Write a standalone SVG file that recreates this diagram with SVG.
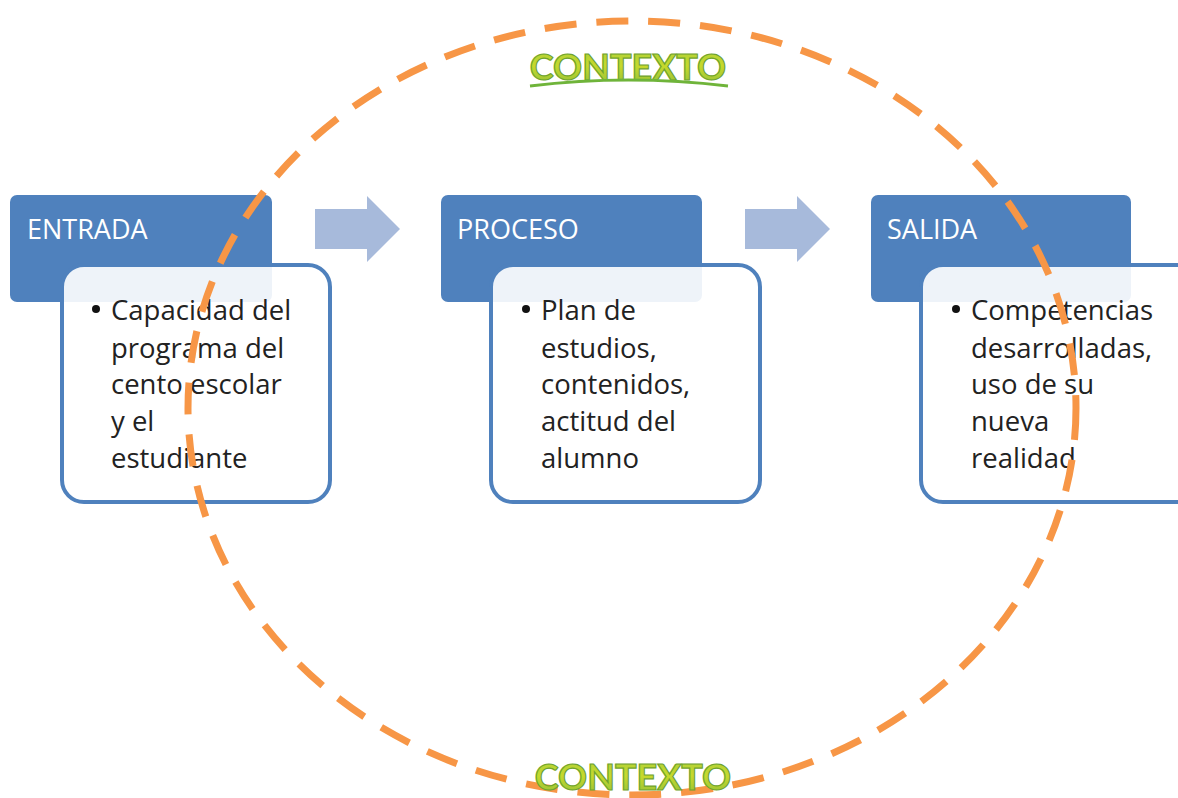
<svg xmlns="http://www.w3.org/2000/svg" width="1178" height="798" viewBox="0 0 1178 798">
<defs>
<style>
.hdr{fill:#4F81BD}
.body{fill:#ffffff;fill-opacity:0.9;stroke:#4F81BD;stroke-width:4}
.ht{font-family:"Open Sans",Lato,"Liberation Sans",sans-serif;font-size:27px;fill:#ffffff}
.bt{font-family:"Open Sans",Lato,"Liberation Sans",sans-serif;font-size:27.5px;fill:#222222}
.arr{fill:#A7BADB}
.ctx{font-family:Lato,"Liberation Sans",sans-serif;font-size:36px;font-weight:bold;fill:url(#g);stroke:#6FA32E;stroke-width:1.2}
</style>
<linearGradient id="g" x1="0" y1="0" x2="0" y2="1">
<stop offset="0" stop-color="#A9CE3C"/>
<stop offset="0.5" stop-color="#C6D92C"/>
<stop offset="1" stop-color="#8DBE3A"/>
</linearGradient>
</defs>
<rect width="1178" height="798" fill="#ffffff"/>
<g id="entrada">
<rect class="hdr" x="10" y="195" width="262" height="107" rx="7"/>
<text class="ht" x="27" y="239">ENTRADA</text>
<rect class="body" x="62" y="265" width="268" height="237" rx="22"/>
<circle cx="96" cy="309" r="4" fill="#111"/>
<text class="bt"><tspan x="111" y="320">Capacidad del</tspan><tspan x="111" y="358">programa del</tspan><tspan x="111" y="394">cento escolar</tspan><tspan x="111" y="431">y el</tspan><tspan x="111" y="468">estudiante</tspan></text>
</g>
<g id="proceso">
<rect class="hdr" x="441" y="195" width="261" height="107" rx="7"/>
<text class="ht" x="457" y="239">PROCESO</text>
<rect class="body" x="491" y="265" width="269" height="237" rx="22"/>
<circle cx="526" cy="309" r="4" fill="#111"/>
<text class="bt"><tspan x="541" y="320">Plan de</tspan><tspan x="541" y="358">estudios,</tspan><tspan x="541" y="394">contenidos,</tspan><tspan x="541" y="431">actitud del</tspan><tspan x="541" y="468">alumno</tspan></text>
</g>
<g id="salida">
<rect class="hdr" x="871" y="195" width="260" height="107" rx="7"/>
<text class="ht" x="887" y="239">SALIDA</text>
<rect class="body" x="921" y="265" width="280" height="237" rx="22"/>
<circle cx="956" cy="309" r="4" fill="#111"/>
<text class="bt"><tspan x="971" y="320">Competencias</tspan><tspan x="971" y="358">desarrolladas,</tspan><tspan x="971" y="394">uso de su</tspan><tspan x="971" y="431">nueva</tspan><tspan x="971" y="468">realidad</tspan></text>
</g>
<g id="connectors">
<path class="arr" d="M315 209 H367 V196 L400 229 L367 262 V249 H315 Z"/>
<path class="arr" d="M745 209 H797 V196 L830 229 L797 262 V249 H745 Z"/>
</g>
<g id="contexto">
<ellipse cx="632" cy="408" rx="444" ry="387" fill="none" stroke="#F79646" stroke-width="7" stroke-dasharray="32 20"/>
<text class="ctx" x="628" y="80" text-anchor="middle">CONTEXTO</text>
<path d="M530 86 Q628 74 728 86" fill="none" stroke="#6FB43A" stroke-width="3"/>
<text class="ctx" x="633" y="790" text-anchor="middle">CONTEXTO</text>
</g>
</svg>
